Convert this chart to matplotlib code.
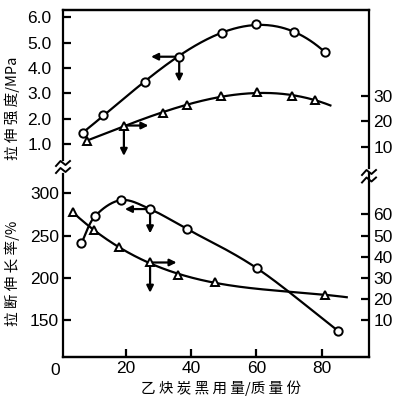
import matplotlib
matplotlib.use("Agg")
import matplotlib.pyplot as plt
from matplotlib.lines import Line2D
import numpy as np

# tensile strength (MPa, left top axis) - circles
ts_x = [7.1, 13.1, 25.8, 36.4, 49.5, 59.8, 71.5, 80.9]
ts_y = [1.43, 2.16, 3.47, 4.45, 5.40, 5.73, 5.43, 4.63]
# right top axis - triangles
tr_x = [8.3, 19.5, 31.3, 38.8, 49.2, 60.2, 71.0, 78.0]
tr_y = [12.3, 18.3, 23.4, 26.3, 29.8, 31.4, 30.0, 28.4]
# elongation at break (%, left bottom axis) - circles
el_x = [6.5, 10.7, 18.6, 27.5, 38.8, 60.2, 84.9]
el_y = [240.9, 273.0, 292.0, 281.4, 257.8, 211.3, 137.6]
# right bottom axis - triangles
br_x = [3.8, 10.4, 17.9, 27.5, 36.1, 47.2, 81.1]
br_y = [61.2, 52.5, 44.6, 37.3, 31.5, 27.9, 22.0]

x_ticks = [20, 40, 60, 80]
top_left_ticks = [1.0, 2.0, 3.0, 4.0, 5.0, 6.0]
top_right_ticks = [10, 20, 30]
bot_left_ticks = [150, 200, 250, 300]
bot_right_ticks = [10, 20, 30, 40, 50, 60]

W, H = 397, 400
fig = plt.figure(figsize=(W / 100, H / 100), dpi=100)
tick_font = "Liberation Sans"
cjk = ["Noto Sans CJK SC", "DejaVu Sans"]


def box(top_px, bot_px):
    return [62.7 / W, 1 - bot_px / H, (369 - 62.7) / W, (bot_px - top_px) / H]


ax_t = fig.add_axes(box(10, 190))
ax_b = fig.add_axes(box(160, 356.7))
for a in (ax_t, ax_b):
    a.set_facecolor("none")
    a.set_xlim(0.8, 94.4)
ax_t.set_ylim(-0.818, 6.296)
ax_b.set_ylim(106.9, 339.4)
ax_t2 = ax_t.twinx()
ax_t2.set_ylim(-7.18, 63.96)
ax_b2 = ax_b.twinx()
ax_b2.set_ylim(-7.24, 85.76)

lw = 1.6
for a in (ax_t, ax_b, ax_t2, ax_b2):
    for s in a.spines.values():
        s.set_linewidth(lw)
ax_t.spines["bottom"].set_visible(False)
ax_t2.spines["bottom"].set_visible(False)
ax_b.spines["top"].set_visible(False)
ax_b2.spines["top"].set_visible(False)
ax_t2.spines["left"].set_visible(False)
ax_b2.spines["left"].set_visible(False)
ax_t.spines["right"].set_visible(False)
ax_b.spines["right"].set_visible(False)
ax_t.spines["left"].set_bounds(0.368, 6.296)
ax_t2.spines["right"].set_bounds(1.51, 63.96)
ax_b.spines["left"].set_bounds(106.9, 322.8)
ax_b2.spines["right"].set_bounds(-7.24, 79.6)

ax_t.set_xticks([])
ax_t2.set_xticks([])
ax_b2.set_xticks([])
ax_b.set_xticks(x_ticks)
ax_b.tick_params(axis="x", direction="in", length=6, width=lw, pad=3, labelsize=12.5)
ax_t.set_yticks(top_left_ticks)
ax_t.set_yticklabels(["%.1f" % v for v in top_left_ticks])
ax_t.tick_params(axis="y", direction="in", length=5.5, width=lw, pad=8, labelsize=12.5)
ax_b.set_yticks(bot_left_ticks)
ax_b.tick_params(axis="y", direction="in", length=5.5, width=lw, pad=2.5, labelsize=12.5)
ax_t2.set_yticks(top_right_ticks)
ax_b2.set_yticks(bot_right_ticks)
for a in (ax_t2, ax_b2):
    a.tick_params(axis="y", direction="in", length=5.5, width=lw, pad=3, labelsize=12.5)
for a in (ax_t, ax_b, ax_t2, ax_b2):
    for lab in a.get_xticklabels() + a.get_yticklabels():
        lab.set_fontfamily(tick_font)
ax_b.text(-1.5, 99, "0", ha="center", va="top", fontsize=12.5, family=tick_font,
          clip_on=False)


def fit_line(a, xs, ys, deg, x0, x1):
    c = np.polyfit(xs, ys, deg)
    xx = np.linspace(x0, x1, 200)
    a.plot(xx, np.polyval(c, xx), color="black", lw=lw, zorder=2)


def smooth_line(a, xs, ys):
    # catmull-rom through the marker points
    p = np.column_stack([xs, ys]).astype(float)
    p = np.vstack([2 * p[0] - p[1], p, 2 * p[-1] - p[-2]])
    t = np.linspace(0, 1, 30)[:, None]
    segs = []
    for i in range(1, len(p) - 2):
        p0, p1, p2, p3 = p[i - 1], p[i], p[i + 1], p[i + 2]
        segs.append(0.5 * (2 * p1 + (p2 - p0) * t + (2 * p0 - 5 * p1 + 4 * p2 - p3) * t ** 2
                           + (3 * p1 - p0 - 3 * p2 + p3) * t ** 3))
    c = np.vstack(segs)
    a.plot(c[:, 0], c[:, 1], color="black", lw=lw, zorder=2)


mk = dict(color="black", ls="none", markerfacecolor="white", markeredgewidth=1.4, zorder=4,
          clip_on=False)
fit_line(ax_t, ts_x, ts_y, 3, ts_x[0], ts_x[-1])
ax_t.plot(ts_x, ts_y, marker="o", markersize=6, **mk)
fit_line(ax_t2, tr_x, tr_y, 3, tr_x[0], 82.6)
ax_t2.plot(tr_x, tr_y, marker="^", markersize=6, **mk)
smooth_line(ax_b, el_x, el_y)
ax_b.plot(el_x, el_y, marker="o", markersize=6, **mk)
fit_line(ax_b2, br_x, br_y, 3, br_x[0], 87.6)
ax_b2.plot(br_x, br_y, marker="^", markersize=6, **mk)


def arrow(a, start, end):
    a.annotate("", xy=end, xytext=start,
               arrowprops=dict(arrowstyle="-|>", lw=lw, color="black", mutation_scale=10,
                               shrinkA=0, shrinkB=0), zorder=3)


arrow(ax_t, (ts_x[3], ts_y[3]), (27.8, ts_y[3]))
arrow(ax_t, (ts_x[3], ts_y[3]), (ts_x[3], 3.46))
arrow(ax_t2, (tr_x[1], tr_y[1]), (27.0, tr_y[1]))
arrow(ax_t2, (tr_x[1], tr_y[1]), (tr_x[1], 6.3))
arrow(ax_b, (el_x[3], el_y[3]), (19.8, el_y[3]))
arrow(ax_b, (el_x[3], el_y[3]), (el_x[3], 252.7))
arrow(ax_b2, (br_x[3], br_y[3]), (35.6, br_y[3]))
arrow(ax_b2, (br_x[3], br_y[3]), (br_x[3], 23.0))

# axis break marks
zx = np.array([-7, -2.5, 2.5, 7])
zy = np.array([2.5, -2.5, 1.5, -2.5])
for cx, cy in [(63, 163.5), (63, 170.5), (369, 172.5), (369, 180)]:
    fig.add_artist(Line2D((cx + zx) / W, 1 - (cy + zy) / H, color="black", lw=1.4))

fig.text(12 / W, 1 - 108 / H, "拉 伸 强 度/MPa", rotation=90, ha="center", va="center",
         fontsize=10.5, family=cjk)
fig.text(12 / W, 1 - 273 / H, "拉 断 伸 长 率/%", rotation=90, ha="center", va="center",
         fontsize=10.5, family=cjk)
fig.text(221 / W, 1 - 388 / H, "乙 炔 炭 黑 用 量/质 量 份", ha="center", va="center",
         fontsize=10.5, family=cjk)

fig.savefig("out.png", dpi=100)
